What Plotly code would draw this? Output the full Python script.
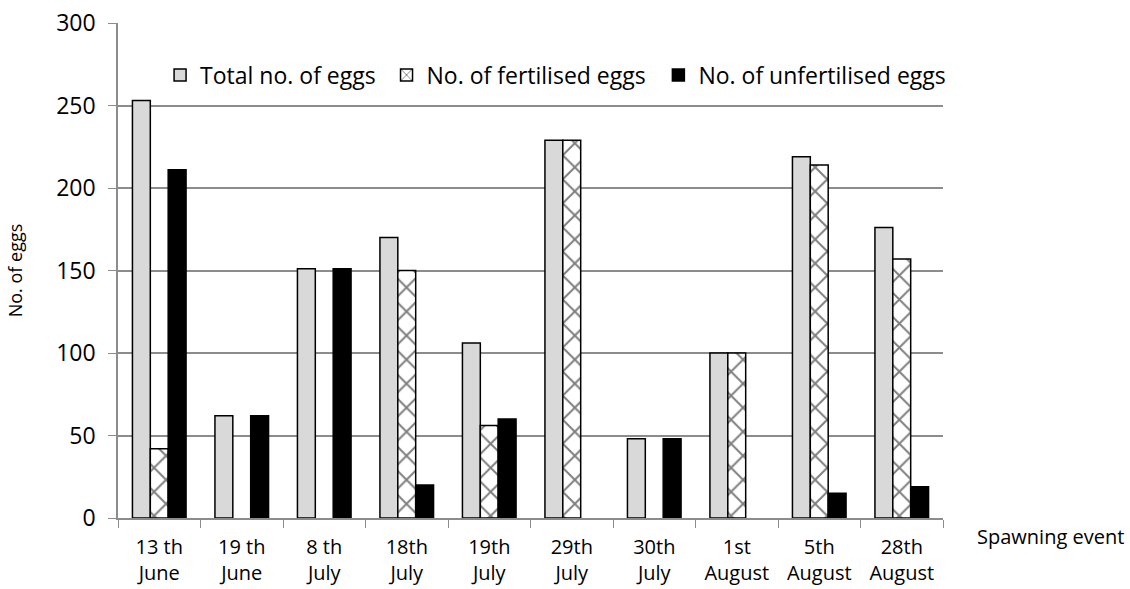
import plotly.graph_objects as go

categories = ["13 th<br>June", "19 th<br>June", "8 th<br>July", "18th<br>July", "19th<br>July",
              "29th<br>July", "30th<br>July", "1st<br>August", "5th<br>August", "28th<br>August"]
total_eggs = [253, 62, 151, 170, 106, 229, 48, 100, 219, 176]
fertilised = [42, 0, 0, 150, 56, 229, 0, 100, 214, 157]
unfertilised = [211, 62, 151, 20, 60, 0, 48, 0, 15, 19]

FONT = "'Open Sans', sans-serif"


def nz(vals):
    return [v if v else None for v in vals]


fig = go.Figure()
fig.add_trace(go.Bar(x=categories, y=nz(total_eggs), name="Total no. of eggs", legend="legend",
                     marker=dict(color="#d9d9d9", line=dict(color="black", width=1.5))))
fig.add_trace(go.Bar(x=categories, y=nz(fertilised), name="No. of fertilised eggs", legend="legend2",
                     marker=dict(color="white", line=dict(color="black", width=1.5),
                                 pattern=dict(shape="x", fgcolor="black", bgcolor="white",
                                              size=17, solidity=0.22))))
fig.add_trace(go.Bar(x=categories, y=nz(unfertilised), name="No. of unfertilised eggs", legend="legend3",
                     marker=dict(color="black", line=dict(color="black", width=1.5))))

leg = dict(orientation="h", y=0.895, xanchor="left", yanchor="middle",
           font=dict(size=23), bgcolor="rgba(0,0,0,0)", itemwidth=30)

fig.update_layout(
    width=1130, height=589,
    margin=dict(l=118, r=187, t=23, b=71),
    paper_bgcolor="white", plot_bgcolor="white",
    barmode="group", bargap=0.35, bargroupgap=0,
    font=dict(family=FONT, size=16, color="black"),
    showlegend=True,
    legend=dict(leg, x=0.051),
    legend2=dict(leg, x=0.3255),
    legend3=dict(leg, x=0.655),
    xaxis=dict(showline=True, linecolor="#8c8c8c", linewidth=1.5, automargin=False,
               ticks="outside", tickson="boundaries", tickcolor="#8c8c8c", ticklen=8,
               tickfont=dict(size=20), showgrid=False, ticklabelstandoff=10,
               ticklabeloverflow="allow"),
    yaxis=dict(range=[0, 300], dtick=50, showline=True, linecolor="#8c8c8c", linewidth=1.5,
               automargin=False,
               ticks="outside", tickcolor="#8c8c8c", ticklen=8, ticklabelstandoff=8,
               ticklabeloverflow="allow",
               showgrid=True, gridcolor="#8c8c8c", gridwidth=1.5,
               tickfont=dict(size=23), zeroline=False,
               title=dict(text="No. of eggs", font=dict(size=18), standoff=29)),
    annotations=[dict(text="Spawning event", xref="paper", yref="paper",
                      x=1.039, y=-0.038, xanchor="left", yanchor="middle",
                      showarrow=False, font=dict(size=20))],
)

fig.write_html("out.html", config={"displayModeBar": False},
               post_script="document.body.style.margin='0';document.body.style.overflow='hidden';")
